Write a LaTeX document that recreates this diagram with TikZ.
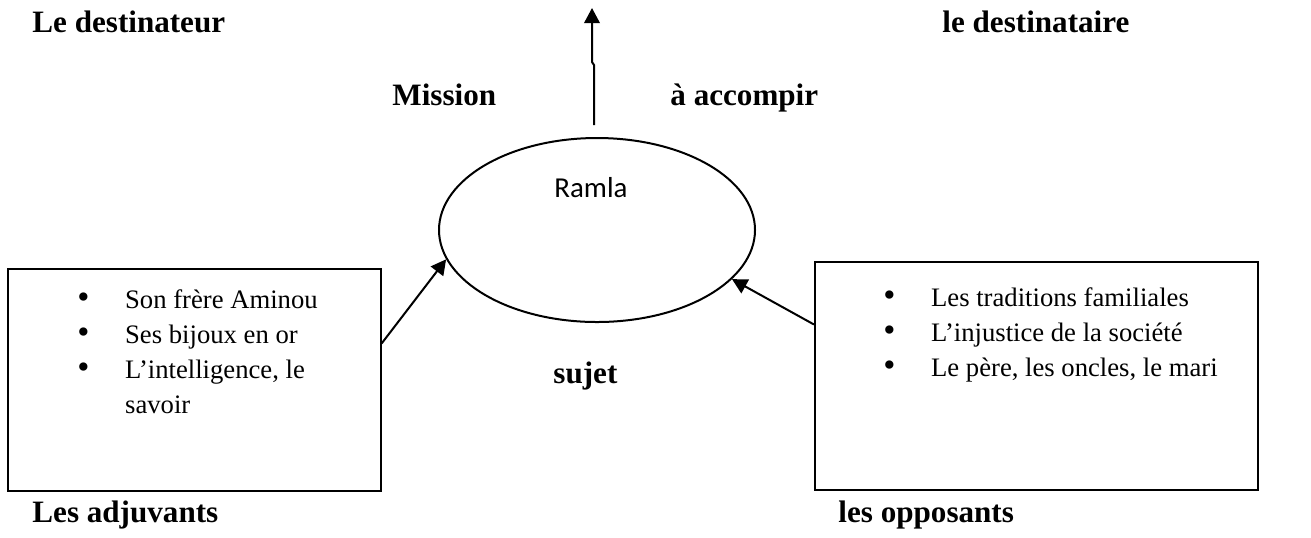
\documentclass[tikz,border=0pt]{standalone}
\usepackage{fontspec}
\setmainfont{Liberation Serif}
\newfontfamily\calibri{Carlito}
\usepackage{tikz}
\usetikzlibrary{arrows.meta,positioning,shapes.geometric}
\newcommand{\blt}{\raisebox{-0.3pt}{\scalebox{1.3}{\textbullet}}}

\begin{document}
\begin{tikzpicture}[
  x=0.45pt, y=-0.45pt,
  lab/.style={font=\fontsize{14}{16}\selectfont\bfseries,anchor=base west,inner sep=0pt},
  box/.style={draw,line width=0.75pt,anchor=north west,inner sep=0pt},
  list/.style={font=\fontsize{12}{15.75}\selectfont,anchor=base west,inner sep=0pt},
  ell/.style={draw,ellipse,line width=0.9pt,minimum width=142.2pt,minimum height=82.8pt,inner sep=0pt},
  arr/.style={-{Triangle[length=6.8pt,width=7pt]},line width=0.9pt}
]
\useasboundingbox (0,0) rectangle (1311,537);
% actants
\node[lab] (dest) at (32,32) {Le destinateur};
\node[lab] (desti) at (942,32) {le destinataire};
\node[lab] (mission) at (392,105) {Mission};
\node[lab] (accomp) at (670,105) {à accompir};
\node[lab] (sujet) at (553,383) {sujet};
\node[lab] (adjlab) at (32,522) {Les adjuvants};
\node[lab] (opplab) at (838,522) {les opposants};
% subject
\node[ell] (subj) at (597,230) {};
\node[font=\calibri\fontsize{13}{15}\selectfont,anchor=base,inner sep=0pt] (ramla) at (591,197) {Ramla};
% boxes
\node[box,minimum width=167.85pt,minimum height=99.9pt] (adj) at (7,268) {};
\node[list] (adjlist) at (77,308) {\begin{tabular}[t]{@{}l@{\hspace{16pt}}l@{}}
  \blt & Son frère Aminou\\
  \blt & Ses bijoux en or\\
  \blt & L’intelligence, le\\
       & savoir
\end{tabular}};
\node[box,minimum width=199.35pt,minimum height=102.6pt] (opp) at (814,261) {};
\node[list] (opplist) at (883,306) {\begin{tabular}[t]{@{}l@{\hspace{16pt}}l@{}}
  \blt & Les traditions familiales\\
  \blt & L’injustice de la société\\
  \blt & Le père, les oncles, le mari
\end{tabular}};
% arrows
\coordinate (goal) at (592,8);
\draw[arr] ([shift={(-3,-12)}]subj.north) -- ++(0,-60) -- ++(-2,-3) -- (goal);
\draw[arr] (adj.11) -- (subj.191);
\draw[arr] (opp.167) -- (subj.-20);
\end{tikzpicture}
\end{document}
